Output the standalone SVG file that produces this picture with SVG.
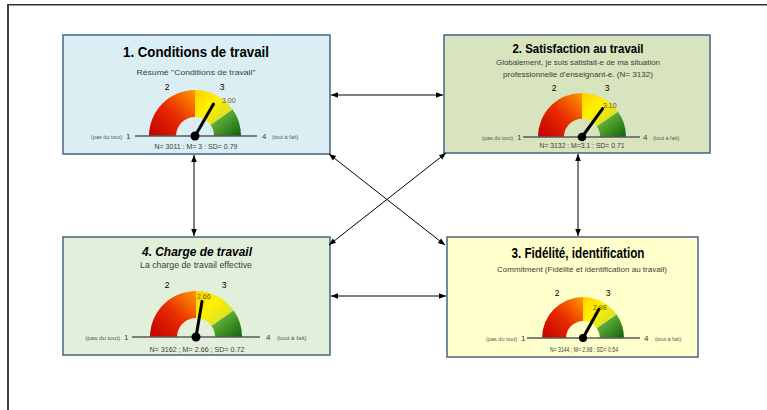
<svg xmlns="http://www.w3.org/2000/svg" xmlns:xlink="http://www.w3.org/1999/xlink" width="767" height="410" viewBox="0 0 767 410">
<style>
text{font-family:"Liberation Sans",Arial,sans-serif}
.box{stroke:#4A6384;stroke-width:1.5}
.title{font-weight:bold;font-size:15px;fill:#000;text-anchor:middle}
.sub{font-size:8px;fill:#404040;text-anchor:middle}
.stat{font-size:7.5px;fill:#404040;text-anchor:middle}
.tick{font-size:8.5px;fill:#000;text-anchor:middle}
.end{font-size:8px;fill:#404040}
.tiny{font-size:5.5px;fill:#595959}
.val{font-size:7px;fill:#6B5B00}
.base{stroke:#595959;stroke-width:1.6}
.needle{stroke:#000;stroke-width:3;stroke-linecap:round}
.conn line{stroke:#000;stroke-width:1;marker-start:url(#ah);marker-end:url(#ah)}
</style>
<defs>
<marker id="ah" viewBox="0 0 10 10" refX="10" refY="5" markerWidth="7" markerHeight="7" markerUnits="userSpaceOnUse" orient="auto-start-reverse"><path d="M0,1 L10,5 L0,9 Z" fill="#000"/></marker>
<linearGradient id="gRed" x1="0" y1="1" x2="1" y2="0"><stop offset="0" stop-color="#C00000"/><stop offset="0.5" stop-color="#E82A00"/><stop offset="1" stop-color="#FF9A00"/></linearGradient>
<linearGradient id="gYel" x1="0" y1="0" x2="1" y2="1"><stop offset="0" stop-color="#FFD000"/><stop offset="0.4" stop-color="#FFF000"/><stop offset="1" stop-color="#C2DA3A"/></linearGradient>
<linearGradient id="gGrn" x1="0" y1="0" x2="1" y2="1"><stop offset="0" stop-color="#8CC850"/><stop offset="0.5" stop-color="#4A9A2A"/><stop offset="1" stop-color="#0E620E"/></linearGradient>
<g id="gauge">
<path d="M-46,0 A46,46 0 0 1 0,-46 L0,-19 A19,19 0 0 0 -19,0 Z" fill="url(#gRed)"/>
<path d="M0,-46 A46,46 0 0 1 37.68,-26.38 L15.56,-10.9 A19,19 0 0 0 0,-19 Z" fill="url(#gYel)"/>
<path d="M37.68,-26.38 A46,46 0 0 1 46,0 L19,0 A19,19 0 0 0 15.56,-10.9 Z" fill="url(#gGrn)"/>
</g>
</defs>
<rect width="767" height="410" fill="#fff"/>
<line x1="8" y1="4.8" x2="767" y2="4.8" stroke="#333" stroke-width="1.6"/>
<line x1="8" y1="4" x2="8" y2="410" stroke="#404040" stroke-width="2"/>

<g id="node1">
<rect class="box" x="63" y="35" width="267" height="119" fill="#DAEEF3"/>
<text class="title" x="196" y="57" textLength="146" lengthAdjust="spacingAndGlyphs">1. Conditions de travail</text>
<text class="sub" x="196" y="75" textLength="119" lengthAdjust="spacingAndGlyphs">Résumé "Conditions de travail"</text>
<text class="tick" x="167" y="90">2</text>
<text class="tick" x="222" y="90">3</text>
<use xlink:href="#gauge" transform="translate(195,136)"/>
<line class="base" x1="135" y1="136" x2="257" y2="136"/>
<line class="needle" x1="195" y1="136" x2="213.5" y2="104"/>
<circle cx="195" cy="136" r="4.5" fill="#000"/>
<text class="val" x="222" y="103">3.00</text>
<text class="tiny" x="122" y="138.5" text-anchor="end">(pas du tout)</text>
<text class="end" x="126" y="139">1</text>
<text class="end" x="262" y="139">4</text>
<text class="tiny" x="272" y="138.5">(tout à fait)</text>
<text class="stat" x="196" y="149" textLength="83" lengthAdjust="spacingAndGlyphs">N= 3011 : M= 3 : SD= 0.79</text>
</g>

<g id="node2">
<rect class="box" x="444" y="35" width="266" height="118" fill="#D7E4BD"/>
<text class="title" x="578" y="53" font-size="13" textLength="131" lengthAdjust="spacingAndGlyphs" style="font-size:13px">2. Satisfaction au travail</text>
<text class="sub" x="578" y="65" textLength="164" lengthAdjust="spacingAndGlyphs">Globalement, je suis satisfait-e de ma situation</text>
<text class="sub" x="578" y="77" textLength="150" lengthAdjust="spacingAndGlyphs">professionnelle d'enseignant-e. (N= 3132)</text>
<text class="tick" x="554" y="91">2</text>
<text class="tick" x="607" y="91">3</text>
<use xlink:href="#gauge" transform="translate(582,137) scale(0.957)"/>
<line class="base" x1="523" y1="137" x2="640" y2="137"/>
<line class="needle" x1="582" y1="137" x2="602.6" y2="108.7"/>
<circle cx="582" cy="137" r="4.3" fill="#000"/>
<text class="val" x="603" y="108">3.10</text>
<text class="tiny" x="513" y="139.5" text-anchor="end">(pas du tout)</text>
<text class="end" x="517" y="140">1</text>
<text class="end" x="643" y="140">4</text>
<text class="tiny" x="653" y="139.5">(tout à fait)</text>
<text class="stat" x="582" y="148" textLength="85" lengthAdjust="spacingAndGlyphs">N= 3132 : M=3.1 : SD= 0.71</text>
</g>

<g id="node4">
<rect class="box" x="63" y="237" width="267" height="118" fill="#E2EFDA"/>
<text class="title" x="197" y="256" textLength="110" lengthAdjust="spacingAndGlyphs" style="font-size:13.5px;font-style:italic">4. Charge de travail</text>
<text class="sub" x="196" y="268" textLength="112" lengthAdjust="spacingAndGlyphs" style="font-size:9px">La charge de travail effective</text>
<text class="tick" x="167" y="288">2</text>
<text class="tick" x="224" y="288">3</text>
<use xlink:href="#gauge" transform="translate(196,337)"/>
<line class="base" x1="132" y1="337" x2="260" y2="337"/>
<line class="needle" x1="196" y1="337" x2="202" y2="301.5"/>
<circle cx="196" cy="337" r="4.5" fill="#000"/>
<text class="val" x="197" y="299">2.66</text>
<text class="tiny" x="120" y="340" text-anchor="end" style="font-size:6.2px">(pas du tout)</text>
<text class="end" x="124" y="340">1</text>
<text class="end" x="266" y="340">4</text>
<text class="tiny" x="277" y="340" style="font-size:6.2px">(tout à fait)</text>
<text class="stat" x="197" y="352" textLength="95" lengthAdjust="spacingAndGlyphs">N= 3162 ; M= 2.66 ; SD= 0.72</text>
</g>

<g id="node3">
<rect class="box" x="447" y="237" width="251" height="120" fill="#FFFFCC"/>
<text class="title" x="578" y="258" textLength="133" lengthAdjust="spacingAndGlyphs" style="font-size:14px">3. Fidélité, identification</text>
<text class="sub" x="582" y="272" textLength="170" lengthAdjust="spacingAndGlyphs">Commitment (Fidélité et identification au travail)</text>
<text class="tick" x="557" y="296">2</text>
<text class="tick" x="608" y="296">3</text>
<use xlink:href="#gauge" transform="translate(583,338) scale(0.89)"/>
<line class="base" x1="527" y1="338" x2="640" y2="338"/>
<line class="needle" x1="583" y1="338" x2="599" y2="309"/>
<circle cx="583" cy="338" r="4" fill="#000"/>
<text class="val" x="593" y="310">2.98</text>
<text class="tiny" x="517" y="340.5" text-anchor="end">(pas du tout)</text>
<text class="end" x="521" y="341">1</text>
<text class="end" x="644" y="341">4</text>
<text class="tiny" x="655" y="340.5">(tout à fait)</text>
<text class="stat" x="584" y="352" textLength="68" lengthAdjust="spacingAndGlyphs" style="font-size:6.5px">N= 3144 ; M= 2.98 ; SD= 0.54</text>
</g>

<g id="connectors" class="conn">
<line x1="331" y1="95" x2="443" y2="95"/>
<line x1="331" y1="296" x2="446" y2="296"/>
<line x1="194" y1="155" x2="194" y2="236"/>
<line x1="578" y1="154" x2="578" y2="236"/>
<line x1="329" y1="154" x2="445" y2="245"/>
<line x1="446" y1="153" x2="329" y2="245"/>
</g>
</svg>
